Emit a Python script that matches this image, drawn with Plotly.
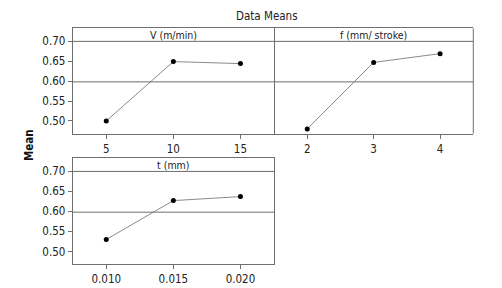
import plotly.graph_objects as go

# ---- data ----
v_levels = [5, 10, 15]
v_means = [0.500, 0.649, 0.644]
f_levels = [2, 3, 4]
f_means = [0.480, 0.647, 0.669]
t_levels = [0.010, 0.015, 0.020]
t_labels = ["0.010", "0.015", "0.020"]
t_means = [0.530, 0.627, 0.637]
y_ticks = [0.50, 0.55, 0.60, 0.65, 0.70]
y_ticklabels = ["0.50", "0.55", "0.60", "0.65", "0.70"]
panel_titles = ["V (m/min)", "f (mm/ stroke)", "t (mm)"]

grand_mean = sum(v_means + f_means + t_means) / 9.0

# page body has an 8px default margin; lay out in window pixels
OFF = 8
W, H = 502 - OFF, 288 - OFF
FONT = "DejaVu Sans Condensed, DejaVu Sans, sans-serif"
BORDER = "#6e6e6e"
LINE = "#8a8a8a"

fig = go.Figure()
for xs, ys, xa, ya in [(v_levels, v_means, "x", "y"),
                       (f_levels, f_means, "x2", "y2"),
                       (t_levels, t_means, "x3", "y3")]:
    fig.add_trace(go.Scatter(x=xs, y=ys, xaxis=xa, yaxis=ya, mode="lines+markers",
                             line=dict(color=LINE, width=1),
                             marker=dict(color="black", size=5),
                             showlegend=False, hoverinfo="x+y"))

def px_x(p):
    return (p - OFF) / W

def px_y(p):
    return 1 - (p - OFF) / H

yrange = [0.468, 0.7326]
common_axis = dict(showgrid=False, zeroline=False, showline=True, mirror=True,
                   linecolor=BORDER, linewidth=1, ticks="outside", ticklen=4,
                   tickcolor=BORDER, tickfont=dict(family=FONT, size=11.5, color="#222"))

top_dom = [px_y(133.7), px_y(28.3)]
bot_dom = [px_y(264.3), px_y(158.3)]

fig.update_layout(
    width=W, height=H, margin=dict(l=0, r=0, t=0, b=0),
    paper_bgcolor="white", plot_bgcolor="white",
    font=dict(family=FONT, color="#222"),
    xaxis=dict(domain=[px_x(72.7), px_x(274)], range=[2.5, 17.5], tickvals=v_levels,
               anchor="y", **common_axis),
    yaxis=dict(domain=top_dom, range=yrange, tickvals=y_ticks, ticktext=y_ticklabels,
               anchor="x", **common_axis),
    xaxis2=dict(domain=[px_x(274), px_x(473.3)], range=[1.5, 4.5], tickvals=f_levels,
                anchor="y2", **common_axis),
    yaxis2=dict(domain=top_dom, range=yrange, showticklabels=False, showline=False,
                showgrid=False, zeroline=False, ticks="", anchor="x2"),
    xaxis3=dict(domain=[px_x(72.7), px_x(274)], range=[0.0075, 0.0225], tickvals=t_levels,
                ticktext=t_labels, anchor="y3", **common_axis),
    yaxis3=dict(domain=bot_dom, range=yrange, tickvals=y_ticks, ticktext=y_ticklabels,
                anchor="x3", **common_axis),
)

shapes = []
annotations = []
# right border of the second panel (left border is shared with panel 1)
shapes.append(dict(type="line", xref="x2 domain", yref="y2 domain",
                   x0=1, x1=1, y0=0, y1=1, line=dict(color=BORDER, width=1)))
for i, (xa, ya) in enumerate([("x", "y"), ("x2", "y2"), ("x3", "y3")]):
    # header strip bottom line
    shapes.append(dict(type="line", xref=f"{xa} domain", yref=f"{ya} domain",
                       x0=0, x1=1, y0=0.876, y1=0.876,
                       line=dict(color=BORDER, width=1)))
    # grand mean reference line
    shapes.append(dict(type="line", xref=f"{xa} domain", yref=ya,
                       x0=0, x1=1, y0=grand_mean, y1=grand_mean,
                       line=dict(color=BORDER, width=1)))
    annotations.append(dict(text=panel_titles[i], xref=f"{xa} domain", yref=f"{ya} domain",
                            x=0.5, y=0.938, showarrow=False, xanchor="center", yanchor="middle",
                            font=dict(family=FONT, size=10.5, color="#222")))

annotations.append(dict(text="Data Means", xref="paper", yref="paper",
                        x=px_x(267), y=px_y(16), showarrow=False,
                        xanchor="center", yanchor="middle",
                        font=dict(family=FONT, size=11.5, color="#222")))
annotations.append(dict(text="<b>Mean</b>", xref="paper", yref="paper",
                        x=px_x(29), y=px_y(145), showarrow=False, textangle=-90,
                        xanchor="center", yanchor="middle",
                        font=dict(family=FONT, size=11.5, color="#111")))

fig.update_layout(shapes=shapes, annotations=annotations)
fig.write_html("out.html")
